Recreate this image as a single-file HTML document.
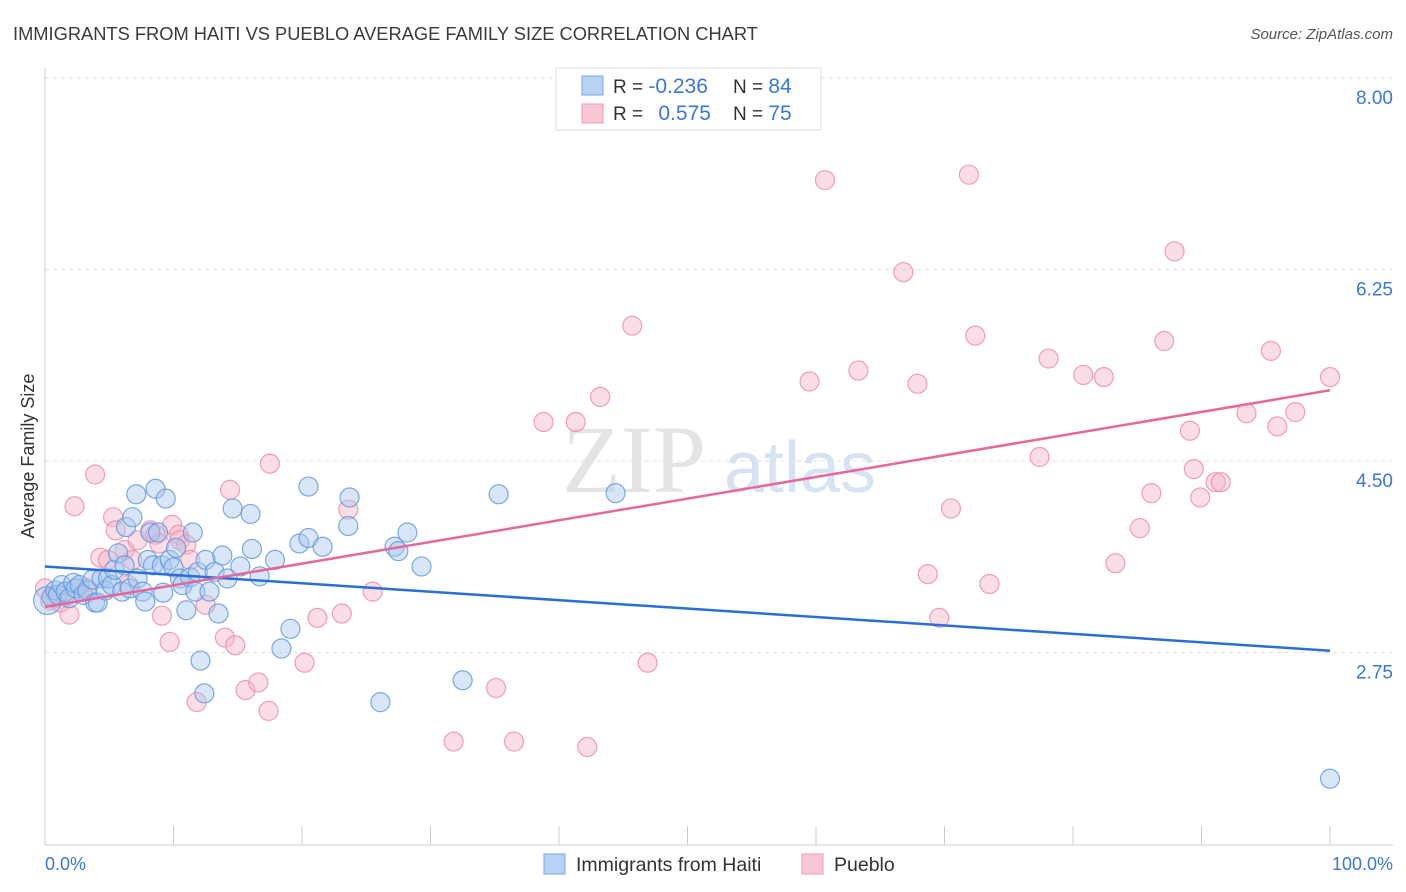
<!DOCTYPE html>
<html><head><meta charset="utf-8"><style>
body{margin:0;background:#fff;font-family:"Liberation Sans",sans-serif}
svg{display:block}
</style></head><body>
<svg id="c" width="1406" height="892" xmlns="http://www.w3.org/2000/svg">
<text x="13" y="40" font-size="18.3" fill="#3a3a3a">IMMIGRANTS FROM HAITI VS PUEBLO AVERAGE FAMILY SIZE CORRELATION CHART</text>
<text x="1393" y="39" font-size="15" fill="#555" text-anchor="end" font-style="italic">Source: ZipAtlas.com</text>
<text x="634" y="492" font-size="96" fill="#e4e4e4" font-family="Liberation Serif,serif" text-anchor="middle">ZIP</text>
<text x="800" y="492" font-size="72" fill="#d6e3f3" text-anchor="middle">atlas</text>
<g id="grid"></g>
<line x1="45" y1="68" x2="45" y2="845" stroke="#ccc"/>
<line x1="45" y1="845" x2="1393" y2="845" stroke="#ccc"/>
<g id="ticks"></g>
<text x="45" y="870" font-size="18" fill="#3b78d8">0.0%</text>
<text x="1393" y="870" font-size="18" fill="#3b78d8" text-anchor="end">100.0%</text>
<text transform="translate(34,456) rotate(-90)" font-size="18" fill="#333" text-anchor="middle">Average Family Size</text>
<g id="pts"></g>
<g id="lines"></g>
<g>
<rect x="556" y="68" width="265" height="62" fill="#fff" stroke="#ddd"/>
<rect x="582" y="76" width="21" height="19" fill="#b8d2f4" stroke="#7aa7e3"/>
<rect x="582" y="104" width="21" height="19" fill="#f9c6d4" stroke="#ee9ab5"/>
<text x="613" y="93" font-size="19" fill="#333">R = <tspan fill="#3b78d8" font-size="21">-0.236</tspan></text>
<text x="733" y="93" font-size="19" fill="#333">N = <tspan fill="#3b78d8" font-size="21">84</tspan></text>
<text x="613" y="120" font-size="19" fill="#333">R = <tspan fill="#3b78d8" dx="10" font-size="21">0.575</tspan></text>
<text x="733" y="120" font-size="19" fill="#333">N = <tspan fill="#3b78d8" font-size="21">75</tspan></text>
</g>
<g>
<rect x="544" y="854" width="21" height="20" fill="#b8d2f4" stroke="#7aa7e3"/>
<text x="576" y="871" font-size="19.5" fill="#333">Immigrants from Haiti</text>
<rect x="802" y="854" width="21" height="20" fill="#f9c6d4" stroke="#ee9ab5"/>
<text x="834" y="871" font-size="19.5" fill="#333">Pueblo</text>
</g>
</svg>
<script>
const yTicks=[8.00,6.25,4.50,2.75];
const xTicks=[0,10,20,30,40,50,60,70,80,90,100];
const blueX=[0.2,0.5,0.8,1.0,1.3,1.6,1.9,2.2,2.4,2.7,3.0,3.3,3.7,3.9,4.1,4.4,4.7,4.9,5.2,5.4,5.7,6.0,6.2,6.3,6.6,6.8,7.1,7.2,7.6,7.8,8.0,8.2,8.4,8.6,8.8,9.1,9.2,9.4,9.7,10.0,10.2,10.5,10.7,11.0,11.3,11.5,11.7,11.9,12.1,12.4,12.5,12.8,13.2,13.5,13.8,14.2,14.6,15.2,16.0,16.1,16.7,17.9,18.4,19.1,19.8,20.5,20.5,21.6,23.6,23.7,26.1,27.2,27.5,28.2,29.3,32.5,35.3,44.4,100];
const blueY=[3.40,3.43,3.49,3.45,3.54,3.48,3.42,3.56,3.51,3.54,3.45,3.49,3.59,3.38,3.38,3.60,3.49,3.60,3.54,3.68,3.83,3.48,3.72,4.07,3.51,4.16,4.37,3.60,3.48,3.39,3.77,4.02,3.72,4.42,4.02,3.72,3.47,4.33,3.77,3.70,3.88,3.60,3.54,3.31,3.61,4.02,3.48,3.66,2.85,2.55,3.77,3.48,3.66,3.28,3.81,3.60,4.24,3.71,4.19,3.87,3.62,3.77,2.96,3.14,3.92,4.44,3.97,3.89,4.08,4.34,2.47,3.89,3.85,4.02,3.71,2.67,4.37,4.38,1.77];
const pinkX=[0,0.4,0.8,1.2,1.6,1.9,2.3,2.7,3.3,3.9,4.3,4.9,5.3,5.5,6.2,6.5,6.8,7.2,8.2,8.6,8.9,9.1,9.7,9.9,10.4,10.5,11.0,11.3,11.8,12.5,14.0,14.4,14.8,15.6,16.6,17.4,17.5,20.2,21.2,23.1,23.6,25.5,31.8,35.1,36.5,38.8,41.3,42.2,43.2,45.7,46.9,59.5,60.7,63.3,66.8,67.9,68.7,69.6,70.5,71.9,72.4,73.5,77.4,78.1,80.8,82.4,83.3,85.2,86.1,87.1,87.9,89.1,89.4,89.9,91.1,91.5,93.5,95.4,95.9,97.3,100];
const pinkY=[3.51,3.40,3.42,3.38,3.45,3.27,4.26,3.49,3.51,4.55,3.79,3.77,4.16,4.04,3.86,3.54,3.77,3.95,4.04,4.00,3.92,3.26,3.02,4.09,4.00,3.95,3.91,3.77,2.47,3.36,3.06,4.41,2.99,2.58,2.65,2.39,4.65,2.83,3.24,3.28,4.23,3.48,2.11,2.60,2.11,5.03,5.03,2.06,5.26,5.91,2.83,5.40,7.24,5.50,6.40,5.38,3.64,3.24,4.24,7.29,5.82,3.55,4.71,5.61,5.46,5.44,3.74,4.06,4.38,5.77,6.59,4.95,4.60,4.34,4.48,4.48,5.11,5.68,4.99,5.12,5.44];
const blueTrend=[3.71,2.94];
const pinkTrend=[3.34,5.32];
const NS="http://www.w3.org/2000/svg";
const sx=v=>45+v*12.85;
const sy=v=>97+(8-v)*109.43;
function mk(t,a,p){const e=document.createElementNS(NS,t);for(const k in a)e.setAttribute(k,a[k]);document.getElementById(p).appendChild(e);return e;}
yTicks.forEach(t=>{
  const l=mk('line',{x1:45,x2:1393,y1:sy(t)-19,y2:sy(t)-19,stroke:'#e2e2e2','stroke-dasharray':'4,4'},'grid');
  
  
  const tx=mk('text',{x:1393,y:sy(t)+7,'font-size':19,fill:'#3b78d8','text-anchor':'end'},'grid');
  tx.textContent=t.toFixed(2);
  
  
});
xTicks.forEach(t=>{
  const l=mk('line',{x1:sx(t),x2:sx(t),y1:826,y2:845,stroke:'#ccc'},'ticks');
  
  
});
function pts(X,Y,fill,stroke,name){
  X.forEach((x,i)=>{
    const c=mk('circle',{cx:sx(x),cy:sy(Y[i]),r:(i===0&&name==='haiti-point')?14:9.5,fill:fill,'fill-opacity':0.45,stroke:stroke,'stroke-opacity':0.8,'stroke-width':1.2},'pts');
    
    
  });
}
pts(pinkX,pinkY,'#f7b3c7','#ec8aa8','pueblo-point');
pts(blueX,blueY,'#a8c7f0','#5f95dc','haiti-point');
const bl=mk('line',{x1:sx(0),y1:sy(blueTrend[0]),x2:sx(100),y2:sy(blueTrend[1]),stroke:'#2a6fd6','stroke-width':2.5},'lines');


const pl=mk('line',{x1:sx(0),y1:sy(pinkTrend[0]),x2:sx(100),y2:sy(pinkTrend[1]),stroke:'#e8679a','stroke-width':2.5},'lines');


</script>
</body></html>
